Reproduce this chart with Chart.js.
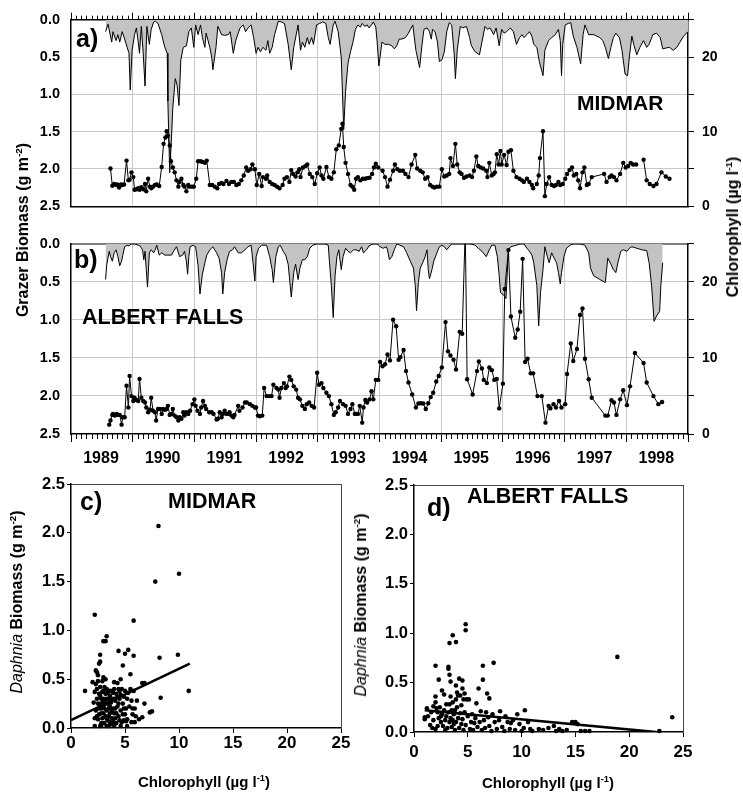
<!DOCTYPE html>
<html>
<head>
<meta charset="utf-8">
<script src="https://cdn.jsdelivr.net/npm/chart.js@4.4.0/dist/chart.umd.min.js"></script>
<style>
  body { margin: 0; background: #fff; }
  #page { position: relative; width: 743px; height: 792px; overflow: hidden;
          font-family: "Liberation Sans", Arial, sans-serif; font-weight: bold; color: #000; }
  canvas { position: absolute; }
  .t { position: absolute; white-space: nowrap; line-height: 1; }
  .rot { transform: translate(-50%, -50%) rotate(-90deg); }
  .mid { transform: translate(-50%, -50%); }
  sup { font-size: 62%; vertical-align: 0; position: relative; top: -0.6em; }
  .sp { font-weight: normal; }
</style>
</head>
<body>
<div id="page">
  <canvas id="cA" width="743" height="226" style="left:0;top:0"></canvas>
  <canvas id="cB" width="743" height="250" style="left:0;top:224px"></canvas>
  <canvas id="cC" width="360" height="322" style="left:0;top:470px"></canvas>
  <canvas id="cD" width="383" height="322" style="left:360px;top:470px"></canvas>

  <div class="t rot" style="left:23px;top:230px;font-size:16px">Grazer Biomass (g m<sup>-2</sup>)</div>
  <div class="t rot" style="left:733px;top:227px;font-size:16px">Chlorophyll (µg l<sup>-1</sup>)</div>
  <div class="t" style="left:76px;top:26px;font-size:25px">a)</div>
  <div class="t" style="left:577px;top:92px;font-size:21px">MIDMAR</div>
  <div class="t" style="left:74px;top:247px;font-size:25px">b)</div>
  <div class="t" style="left:82px;top:307px;font-size:21.5px">ALBERT FALLS</div>
  <div class="t" style="left:80px;top:489px;font-size:25px">c)</div>
  <div class="t" style="left:168px;top:491px;font-size:21.5px">MIDMAR</div>
  <div class="t" style="left:427px;top:495px;font-size:25px">d)</div>
  <div class="t" style="left:467px;top:486px;font-size:21.5px">ALBERT FALLS</div>
  <div class="t rot" style="left:17px;top:602px;font-size:16px"><i class="sp">Daphnia</i> Biomass (g m<sup>-2</sup>)</div>
  <div class="t rot" style="left:361px;top:605px;font-size:16px"><i class="sp">Daphnia</i> Biomass (g m<sup>-2</sup>)</div>
  <div class="t mid" style="left:204px;top:782px;font-size:15px">Chlorophyll (µg l<sup>-1</sup>)</div>
  <div class="t mid" style="left:548px;top:783px;font-size:15px">Chlorophyll (µg l<sup>-1</sup>)</div>
</div>

<script>
// ---- a) Midmar: grazer biomass (g m-2), time in decimal years
const GA_T = [
  1989.56,1989.60,1989.66,1989.68,1989.73,1989.76,1989.79,1989.83,1989.87,1989.91,
  1989.94,1989.96,1989.99,1990.03,1990.06,1990.09,1990.11,1990.14,1990.17,1990.20,
  1990.23,1990.27,1990.30,1990.34,1990.37,1990.41,1990.47,1990.52,1990.56,1990.57,
  1990.60,1990.63,1990.65,1990.69,1990.72,1990.75,1990.78,1990.82,1990.87,1990.91,
  1990.95,1990.99,1991.02,1991.06,1991.10,1991.13,1991.17,1991.19,1991.25,1991.28,
  1991.30,1991.35,1991.38,1991.44,1991.49,1991.55,1991.58,1991.63,1991.67,1991.71,
  1991.74,1991.79,1991.83,1991.87,1991.92,1991.96,1992.00,1992.03,1992.07,1992.11,
  1992.16,1992.19,1992.22,1992.26,1992.30,1992.36,1992.41,1992.46,1992.52,1992.57,
  1992.61,1992.65,1992.68,1992.72,1992.75,1992.79,1992.83,1992.86,1992.90,1992.93,
  1992.98,1993.03,1993.08,1993.13,1993.17,1993.20,1993.25,1993.28,1993.33,1993.38,
  1993.42,1993.45,1993.49,1993.53,1993.57,1993.61,1993.65,1993.69,1993.72,1993.76,
  1993.80,1993.83,1993.87,1993.90,1993.94,1993.96,1993.99,
  1994.04,1994.09,1994.15,1994.20,1994.24,1994.28,1994.32,1994.36,1994.42,1994.47,
  1994.54,1994.59,1994.65,1994.69,1994.72,1994.77,1994.81,1994.84,1994.86,1994.90,
  1994.94,1994.97,1995.01,1995.05,1995.09,1995.13,1995.17,1995.21,1995.23,1995.26,
  1995.31,1995.35,1995.41,1995.46,1995.49,1995.55,1995.62,1995.66,1995.71,1995.75,
  1995.79,1995.85,1995.89,1995.94,1995.98,1996.02,1996.06,1996.12,1996.17,1996.22,
  1996.27,1996.31,1996.34,1996.39,1996.43,1996.47,1996.50,1996.55,1996.59,1996.65,
  1996.68,1996.74,1996.79,1996.85,1996.90,1996.93,1996.95,1996.97,1997.01,1997.06,
  1997.10,1997.14,1997.20,1997.26,1997.30,1997.33,1997.39,1997.47,1997.52,1997.57,
  1997.62,1997.66,1997.71,1997.75,1997.79,1997.83,1997.89,1997.93,1997.98,1998.02,
  1998.05,1998.09,1998.12,1998.17,1998.22,1998.28,1998.33,1998.37,1998.43,1998.49,
  1998.55,1998.59,1998.64,1998.70,1998.76,1998.82,1998.87,1998.93,1999.00
];
const GA_V = [
  0.16,0.06,0.30,0.16,0.28,0.20,0.30,0.16,0.26,0.37,
  0.45,0.94,0.41,0.20,0.11,0.30,0.45,0.09,0.45,0.89,
  0.09,0.33,0.13,0.03,0.02,0.05,0.20,0.37,0.45,1.09,
  2.05,1.56,1.18,0.79,0.88,1.15,0.54,0.37,0.35,0.16,
  0.11,0.37,0.07,0.20,0.07,0.24,0.37,0.18,0.37,0.50,
  0.67,0.37,0.09,0.20,0.21,0.20,0.16,0.45,0.28,0.18,
  0.11,0.07,0.16,0.11,0.07,0.24,0.45,0.37,0.43,0.37,
  0.41,0.28,0.45,0.37,0.20,0.02,0.03,0.05,0.33,0.67,
  0.37,0.20,0.07,0.41,0.30,0.37,0.24,0.33,0.24,0.33,
  0.07,0.05,0.03,0.05,0.24,0.33,0.07,0.02,0.16,0.50,
  1.47,0.96,0.58,0.43,0.30,0.13,0.07,0.10,0.05,0.09,
  0.07,0.11,0.07,0.03,0.10,0.28,0.62,
  0.30,0.33,0.33,0.35,0.39,0.35,0.26,0.26,0.24,0.18,
  0.07,0.41,0.64,0.33,0.13,0.11,0.16,0.26,0.13,0.16,
  0.30,0.56,0.54,0.43,0.16,0.04,0.07,0.45,0.79,0.41,
  0.09,0.11,0.09,0.24,0.35,0.43,0.47,0.30,0.09,0.13,
  0.11,0.20,0.11,0.35,0.13,0.18,0.16,0.11,0.16,0.33,
  0.24,0.20,0.24,0.20,0.16,0.22,0.33,0.37,0.56,0.75,
  0.41,0.28,0.24,0.20,0.13,0.28,0.75,0.33,0.07,0.05,
  0.04,0.22,0.37,0.59,0.20,0.07,0.20,0.20,0.22,0.24,
  0.28,0.37,0.52,0.37,0.24,0.18,0.24,0.41,0.73,0.75,
  0.50,0.22,0.33,0.47,0.37,0.28,0.37,0.33,0.20,0.18,
  0.24,0.39,0.38,0.37,0.41,0.37,0.30,0.22,0.16
];

// ---- a) Midmar: chlorophyll (ug l-1); null = gap in record
const CA_T = [
  1989.64,1989.67,1989.70,1989.73,1989.75,1989.78,1989.81,1989.83,1989.86,1989.90,
  1989.93,1989.95,1989.98,1990.01,1990.03,1990.06,1990.09,1990.11,1990.14,1990.17,
  1990.20,1990.22,1990.25,1990.28,1990.30,1990.33,1990.36,1990.39,1990.43,1990.47,
  1990.50,1990.53,1990.55,1990.57,1990.60,1990.62,1990.65,1990.68,1990.71,1990.74,
  1990.76,1990.79,1990.82,1990.84,1990.87,1990.90,1990.92,1990.96,1990.99,1991.03,
  1991.06,1991.10,1991.13,1991.17,1991.20,1991.25,1991.29,1991.33,1991.37,1991.40,
  1991.44,1991.47,1991.52,1991.56,1991.60,1991.64,1991.68,1991.72,1991.76,1991.80,
  1991.84,1991.87,1991.91,1991.94,1991.98,1992.01,1992.05,1992.09,1992.11,1992.16,
  1992.18,1992.22,1992.26,1992.30,1992.34,1992.38,1992.43,1992.46,1992.50,1992.54,
  1992.57,1992.60,1992.64,1992.67,1992.70,1992.72,1992.76,1992.80,1992.83,1992.87,
  1992.91,1992.95,1992.99,1993.03,1993.06,1993.09,1993.14,1993.18,1993.22,1993.26,
  1993.30,1993.34,1993.38,1993.40,1993.42,1993.45,1993.49,1993.53,1993.56,1993.59,
  1993.62,1993.65,1993.69,1993.73,1993.77,1993.80,1993.84,1993.88,1993.91,1993.94,
  1993.98,
  1994.05,1994.09,1994.13,1994.17,1994.22,1994.25,1994.29,1994.33,1994.38,1994.42,
  1994.47,1994.52,1994.58,1994.61,1994.66,1994.70,1994.74,1994.78,1994.82,1994.86,
  1994.89,1994.93,1994.97,1995.01,1995.05,1995.09,1995.13,1995.15,1995.19,1995.23,
  1995.26,1995.30,1995.33,1995.37,1995.41,1995.46,1995.50,1995.53,1995.57,1995.60,
  1995.64,1995.68,1995.73,1995.75,1995.78,1995.82,1995.85,1995.87,1995.90,1995.93,
  1995.96,1995.98,1996.02,1996.06,1996.09,1996.13,1996.17,1996.22,1996.27,1996.31,
  1996.34,1996.39,1996.43,1996.47,1996.49,1996.55,1996.58,1996.60,1996.65,1996.68,
  1996.71,1996.75,1996.79,1996.83,1996.86,1996.90,1996.93,1996.97,1997.01,1997.04,
  1997.08,1997.12,1997.15,1997.19,1997.22,1997.25,1997.29,1997.32,1997.36,1997.39,
  1997.44,1997.64,1997.68,1997.73,1997.76,1997.80,1997.84,1997.90,1997.95,1997.99,
  1998.03,1998.07,1998.11,1998.16,1998.22,1998.28,1998.33,1998.38,1998.44,1998.49,
  1998.57,1998.64,1998.70
];
const CA_V = [
  5.06,2.76,2.98,2.85,2.93,2.51,2.93,2.85,2.93,6.12,
  3.48,3.57,4.55,3.91,2.21,2.29,2.42,2.21,2.55,2.29,
  2.98,2.00,3.70,2.63,2.42,2.63,2.85,2.93,2.72,5.27,
  8.37,9.22,10.07,9.44,8.16,6.04,5.19,4.55,3.48,2.63,
  3.27,3.70,2.85,2.63,2.00,2.85,2.63,2.63,2.63,3.70,
  6.04,6.04,5.95,5.82,6.12,2.85,2.85,2.63,2.42,2.98,
  3.14,2.98,3.40,2.98,3.27,3.27,2.85,2.98,3.48,4.12,
  5.19,4.76,4.97,5.61,4.97,2.85,4.34,2.72,3.91,3.70,
  4.12,3.27,2.98,2.85,2.63,2.42,2.85,3.70,3.91,3.27,
  4.85,4.34,4.00,4.55,4.97,3.91,5.19,5.40,5.61,4.34,
  3.91,2.98,4.42,5.19,4.12,3.70,5.27,3.91,3.70,4.55,
  7.65,8.16,10.37,11.05,7.95,5.82,4.34,2.85,2.63,2.21,
  3.70,3.91,3.48,3.70,3.70,3.78,3.82,4.34,5.19,5.70,
  5.19,
  4.76,3.91,2.63,3.57,4.76,5.61,4.97,4.76,4.76,4.34,
  3.91,5.61,6.89,5.06,4.76,4.55,3.70,3.91,2.85,2.63,
  2.51,2.63,2.63,4.97,4.00,4.12,4.34,6.46,5.40,8.37,
  5.61,4.55,4.34,3.82,4.00,4.12,3.91,4.76,6.67,5.40,
  5.19,5.06,4.76,3.91,5.82,4.12,4.34,4.55,6.97,5.61,
  7.40,5.61,6.89,5.53,7.31,7.52,4.76,3.91,3.70,3.48,
  3.27,3.70,3.27,2.85,2.42,2.98,4.12,6.46,10.07,1.36,
  2.98,3.91,2.85,2.72,2.85,3.27,2.85,2.98,3.70,4.34,
  4.85,5.19,4.12,4.34,3.48,2.42,4.55,5.19,2.85,2.98,
  3.91,4.34,3.27,3.91,4.12,3.91,3.48,4.34,5.82,5.19,
  5.40,5.82,5.61,5.61,null,6.25,3.48,2.98,2.72,2.98,
  4.55,4.00,3.70
];

// ---- b) Albert Falls: grazer biomass (g m-2)
const GB_T = [
  1989.56,1989.58,1989.62,1989.64,1989.67,1989.70,1989.73,1989.76,1989.79,1989.82,
  1989.84,1989.87,1989.91,1989.94,1989.98,1990.03,1990.09,1990.12,1990.16,1990.18,
  1990.20,1990.22,1990.24,1990.27,1990.30,1990.34,1990.37,1990.39,1990.43,1990.47,
  1990.52,1990.57,1990.63,1990.66,1990.71,1990.76,1990.81,1990.84,1990.87,1990.89,
  1990.91,1990.93,1990.98,1991.02,1991.06,1991.09,1991.13,1991.17,1991.20,1991.25,
  1991.30,1991.36,1991.40,1991.44,1991.46,1991.49,1991.53,1991.57,1991.62,1991.65,
  1991.71,1991.76,1991.82,1991.87,1991.92,1991.95,1991.98,1992.00,1992.04,1992.09,
  1992.17,1992.22,1992.26,1992.28,1992.32,1992.36,1992.39,1992.44,1992.48,1992.52,
  1992.54,1992.57,1992.61,1992.64,1992.68,1992.71,1992.75,1992.79,1992.83,1992.87,
  1992.92,1992.98,1993.04,1993.11,1993.17,1993.19,1993.22,1993.25,1993.28,1993.31,
  1993.34,1993.38,1993.41,1993.45,1993.49,1993.53,1993.58,1993.62,1993.67,1993.71,
  1993.74,1993.79,1993.83,1993.89,1993.96,
  1994.01,1994.06,1994.11,1994.13,1994.16,1994.20,1994.24,1994.28,1994.33,1994.39,
  1994.44,1994.50,1994.55,1994.58,1994.60,1994.63,1994.66,1994.70,1994.74,1994.77,
  1994.79,1994.81,1994.85,1994.88,1994.93,1994.97,1995.01,1995.05,1995.09,1995.13,
  1995.17,1995.23,1995.31,1995.39,1995.47,1995.55,1995.60,1995.66,1995.73,1995.78,
  1995.82,1995.87,1995.91,1995.94,1995.96,1996.02,1996.05,1996.09,1996.13,1996.17,
  1996.22,1996.28,1996.34,1996.39,1996.43,1996.47,1996.50,1996.55,1996.58,1996.61,
  1996.65,1996.68,1996.72,1996.75,1996.79,1996.83,1996.87,1996.90,1996.93,1996.95,
  1996.99,1997.03,1997.09,1997.14,1997.25,1997.33,1997.39,1997.42,1997.47,1997.57,
  1997.66,1997.70,1997.74,1997.79,1997.83,1997.87,1997.91,1997.95,1998.01,1998.05,
  1998.09,1998.17,1998.25,1998.33,1998.37,1998.41,1998.45,1998.49,1998.54,1998.56,
  1998.59
];
const GB_V = [
  0.47,0.27,0.10,0.17,0.23,0.12,0.08,0.17,0.29,0.23,
  0.15,0.04,0.02,0.03,0.00,0.00,0.02,0.03,0.08,0.21,
  0.10,0.34,0.57,0.12,0.08,0.12,0.07,0.02,0.15,0.12,
  0.15,0.15,0.15,0.10,0.04,0.17,0.15,0.10,0.23,0.40,
  0.17,0.04,0.02,0.04,0.29,0.66,0.40,0.25,0.15,0.08,
  0.04,0.12,0.19,0.38,0.66,0.38,0.21,0.10,0.08,0.04,
  0.12,0.12,0.08,0.04,0.02,0.25,0.49,0.17,0.06,0.02,
  0.02,0.17,0.34,0.51,0.17,0.04,0.02,0.10,0.15,0.27,
  0.44,0.70,0.38,0.27,0.47,0.32,0.21,0.21,0.17,0.06,
  0.02,0.00,0.00,0.00,0.02,0.25,0.55,0.97,0.42,0.17,
  0.08,0.34,0.17,0.06,0.10,0.12,0.08,0.08,0.10,0.04,
  0.12,0.08,0.03,0.00,0.00,
  0.04,0.06,0.04,0.08,0.21,0.17,0.08,0.00,0.02,0.04,
  0.12,0.23,0.32,0.55,0.88,0.51,0.32,0.25,0.17,0.08,
  0.34,0.46,0.34,0.23,0.12,0.04,0.02,0.04,0.08,0.04,
  0.00,0.00,0.00,0.00,0.00,0.02,0.06,0.10,0.17,0.08,
  0.02,0.02,0.17,0.42,0.64,0.68,0.72,0.08,0.04,0.03,
  0.02,0.00,0.00,0.06,0.10,0.15,0.25,0.55,1.08,0.64,
  0.34,0.04,0.17,0.25,0.12,0.19,0.25,0.38,0.53,0.38,
  0.17,0.06,0.02,0.00,0.00,0.02,0.12,0.32,0.42,0.47,
  0.51,0.19,0.25,0.34,0.38,0.23,0.10,0.08,0.10,0.06,
  0.04,0.06,0.08,0.09,0.25,0.55,1.02,0.95,0.89,0.55,
  0.25
];

// ---- b) Albert Falls: chlorophyll (ug l-1); 1995 peak runs off the scale
const CB_T = [
  1989.62,1989.64,1989.67,1989.68,1989.71,1989.74,1989.76,1989.79,1989.82,1989.84,
  1989.87,1989.90,1989.93,1989.95,1989.98,1990.01,1990.03,1990.06,1990.09,1990.11,
  1990.14,1990.17,1990.20,1990.22,1990.25,1990.28,1990.30,1990.33,1990.36,1990.38,
  1990.41,1990.44,1990.47,1990.49,1990.52,1990.55,1990.57,1990.60,1990.63,1990.65,
  1990.68,1990.71,1990.74,1990.76,1990.79,1990.82,1990.84,1990.87,1990.90,1990.93,
  1990.97,1991.00,1991.02,1991.05,1991.09,1991.11,1991.14,1991.17,1991.19,1991.24,
  1991.28,1991.31,1991.36,1991.38,1991.41,1991.44,1991.46,1991.49,1991.52,1991.55,
  1991.57,1991.60,1991.63,1991.65,1991.71,1991.73,1991.78,1991.82,1991.85,1991.90,
  1991.94,1991.98,1992.00,1992.03,1992.06,1992.10,1992.13,1992.17,1992.21,1992.25,
  1992.28,1992.33,1992.36,1992.38,1992.41,1992.45,1992.48,1992.50,1992.54,1992.57,
  1992.61,1992.65,1992.68,1992.71,1992.75,1992.79,1992.82,1992.86,1992.90,1992.94,
  1992.99,1993.02,1993.06,1993.09,1993.14,1993.18,1993.22,1993.26,1993.29,1993.33,
  1993.36,1993.41,1993.45,1993.49,1993.53,1993.56,1993.60,1993.62,1993.65,1993.68,
  1993.72,1993.74,1993.77,1993.80,1993.84,1993.87,1993.90,1993.94,1993.98,
  1994.01,1994.05,1994.09,1994.13,1994.17,1994.22,1994.27,1994.31,1994.34,1994.39,
  1994.43,1994.47,1994.53,1994.59,1994.63,1994.67,1994.71,1994.75,1994.79,1994.83,
  1994.87,1994.92,1994.96,1995.01,1995.07,1995.11,1995.15,1995.20,1995.24,1995.30,
  1995.34,1995.39,1995.42,1995.51,1995.58,1995.61,1995.66,1995.69,1995.74,1995.78,
  1995.82,1995.86,1995.90,1995.94,1996.00,1996.03,1996.09,1996.13,1996.20,1996.24,
  1996.28,1996.32,1996.36,1996.40,1996.45,1996.49,1996.56,1996.63,1996.69,1996.74,
  1996.77,1996.82,1996.86,1996.91,1996.95,1997.01,1997.04,1997.10,1997.14,1997.20,
  1997.25,1997.29,1997.33,1997.39,1997.44,1997.66,1997.70,1997.76,1997.80,1997.84,
  1997.90,1997.95,1998.01,1998.06,1998.14,1998.28,1998.33,1998.44,1998.52,1998.58
];
const CB_V = [
  1.23,1.78,2.51,2.64,2.42,2.64,2.51,2.51,1.23,2.21,
  2.21,6.35,3.49,7.62,4.98,4.34,4.77,4.47,4.34,7.24,
  4.77,4.34,4.13,3.49,2.85,3.19,4.77,3.06,2.85,1.78,
  3.28,3.28,2.64,3.28,3.19,3.28,3.70,2.51,2.64,3.28,
  2.42,2.21,1.78,2.21,2.00,2.85,2.42,2.85,2.64,3.06,
  3.92,4.55,3.70,3.06,2.64,3.49,4.34,3.70,3.28,2.85,
  2.85,2.64,1.91,2.00,2.85,2.21,2.64,3.06,2.64,2.64,
  2.85,2.42,2.21,2.51,3.70,3.06,3.49,4.13,4.13,3.92,
  3.70,3.49,3.49,2.42,2.34,2.42,6.05,4.98,4.98,4.98,
  6.47,6.05,5.83,4.77,6.05,6.69,6.05,6.26,7.54,7.11,
  6.26,5.83,4.77,4.55,3.70,3.28,3.92,4.13,3.70,3.49,
  8.05,6.47,6.69,6.05,5.41,4.98,3.92,2.51,2.85,3.49,
  4.34,3.92,3.70,2.64,3.28,3.92,2.64,2.64,2.64,3.70,
  1.49,3.49,4.47,4.13,4.55,5.62,4.55,7.11,7.11,
  9.46,8.90,9.16,10.44,9.67,15.00,14.15,9.76,10.10,11.03,
  8.26,6.77,5.19,3.49,4.00,4.04,4.00,3.28,4.04,4.85,
  5.41,6.90,7.62,8.73,14.70,10.86,10.31,9.76,8.48,13.42,
  13.17,27.0,7.20,5.19,8.26,9.54,8.60,7.11,6.69,8.73,
  8.39,7.11,7.24,3.36,6.60,19.05,24.16,15.43,12.65,13.72,
  16.07,23.01,9.46,9.88,7.97,7.97,4.98,4.98,1.49,3.70,
  3.36,3.92,3.49,4.34,3.49,3.92,7.88,11.89,9.59,11.16,
  15.64,16.49,9.88,7.20,4.77,2.42,2.42,4.43,4.13,2.51,
  4.55,5.75,3.79,6.26,10.65,9.33,6.77,4.98,3.92,4.21
];

// ---- c) Midmar: chlorophyll (ug l-1) vs Daphnia biomass (g m-2)
const SC_X = [
  8.1,7.8,10.0,2.2,5.8,3.3,3.0,3.2,4.4,5.3,
  5.0,5.8,2.7,2.7,2.6,9.9,8.2,4.8,2.3,2.4,
  2.5,5.5,10.9,8.3,1.3,6.8,6.6,6.8,7.3,7.5,
  6.6,6.3,5.9,2.2,2.7,3.3,4.0,4.6,2.0,2.2,
  2.3,2.4,2.5,2.3,2.4,2.5,2.6,2.6,2.7,2.8,
  2.8,2.9,2.9,3.0,3.0,3.1,3.1,3.2,3.2,3.3,
  3.3,3.4,3.4,3.5,3.5,3.6,3.6,3.7,3.7,3.8,
  3.8,3.9,3.9,4.0,4.0,4.1,4.2,4.2,4.3,4.3,
  4.4,4.5,4.5,4.6,4.7,4.7,4.8,4.9,4.9,5.0,
  5.1,5.2,5.3,5.4,5.5,5.6,5.7,5.8,5.9,6.1,
  2.1,2.2,2.4,2.5,2.6,2.7,2.7,2.8,2.8,2.9,
  2.9,3.0,3.0,3.1,3.1,3.2,3.3,3.3,3.4,3.5,
  3.5,3.6,3.6,3.7,3.8,3.9,4.0,4.1,4.1,4.2,
  4.3,4.4,4.4,4.5,4.6,4.8,4.9,5.0,5.1,5.2,
  5.6,5.7,6.0,3.0,3.2,4.6,4.0,2.8,3.5,5.2
];
const SC_Y = [
  2.07,1.50,1.58,1.16,1.10,0.94,0.89,0.89,0.79,0.80,
  0.76,0.74,0.75,0.68,0.66,0.75,0.72,0.64,0.59,0.57,
  0.54,0.55,0.38,0.31,0.38,0.46,0.46,0.25,0.16,0.17,
  0.11,0.09,0.06,0.02,0.02,0.02,0.02,0.02,0.47,0.37,
  0.45,0.30,0.25,0.18,0.12,0.09,0.20,0.35,0.42,0.30,
  0.15,0.10,0.48,0.38,0.22,0.05,0.28,0.12,0.35,0.40,
  0.18,0.25,0.08,0.38,0.30,0.15,0.22,0.38,0.04,0.30,
  0.10,0.20,0.36,0.40,0.15,0.28,0.05,0.35,0.22,0.46,
  0.12,0.30,0.38,0.18,0.06,0.40,0.25,0.08,0.32,0.14,
  0.20,0.09,0.36,0.22,0.40,0.28,0.14,0.38,0.20,0.28,
  0.26,0.10,0.40,0.48,0.14,0.24,0.33,0.05,0.20,0.26,
  0.37,0.15,0.30,0.20,0.42,0.25,0.10,0.30,0.36,0.12,
  0.20,0.06,0.33,0.26,0.18,0.06,0.30,0.10,0.20,0.15,
  0.32,0.25,0.40,0.08,0.34,0.14,0.20,0.38,0.07,0.30,
  0.06,0.20,0.12,0.52,0.50,0.50,0.47,0.02,0.02,0.02
];
const FIT_C_X = [0, 11];
const FIT_C_Y = [0.08, 0.66];

// ---- d) Albert Falls: chlorophyll (ug l-1) vs Daphnia biomass (g m-2)
const SD_X = [
  4.8,4.8,3.6,3.3,3.9,18.9,7.4,2.0,3.2,3.2,
  6.4,3.3,2.3,3.4,4.2,4.5,6.4,6.0,4.5,4.7,
  4.6,4.9,5.1,6.8,7.0,5.8,3.9,4.0,4.1,4.3,
  24.0,22.8,10.3,9.6,8.0,6.7,14.7,15.0,15.2,12.5,
  13.2,13.5,13.8,11.6,10.8,10.0,15.5,15.9,16.3,1.0,
  1.0,1.3,1.5,1.7,2.0,2.0,2.0,2.1,2.2,2.3,
  2.4,2.5,2.6,2.6,2.7,2.8,2.8,2.9,3.0,3.0,
  3.1,3.2,3.3,3.3,3.4,3.5,3.5,3.6,3.6,3.7,
  3.8,3.8,3.9,4.0,4.1,4.2,4.3,4.4,4.5,4.6,
  4.7,4.8,5.0,5.2,5.3,5.5,5.7,5.9,6.1,6.3,
  6.5,6.6,6.9,7.0,7.2,7.5,7.7,7.9,8.2,8.4,
  8.7,8.9,9.2,9.4,9.8,10.2,10.6,11.0,1.8,1.6,
  2.2,2.5,2.9,3.7,4.4,5.4,6.2,7.3,8.5,9.0,
  1.2,1.8,3.4,3.9,5.6,12.0,14.2,13.0
];
const SD_Y = [
  1.09,1.03,0.98,0.90,0.91,0.76,0.70,0.67,0.66,0.64,
  0.67,0.58,0.53,0.51,0.54,0.52,0.53,0.44,0.44,0.39,
  0.33,0.33,0.33,0.39,0.34,0.29,0.47,0.40,0.37,0.37,
  0.15,0.01,0.22,0.18,0.21,0.20,0.10,0.10,0.08,0.04,
  0.01,0.03,0.01,0.03,0.03,0.01,0.01,0.01,0.01,0.15,
  0.13,0.16,0.07,0.04,0.03,0.36,0.30,0.24,0.20,0.14,
  0.25,0.10,0.42,0.18,0.06,0.22,0.38,0.12,0.28,0.16,
  0.04,0.20,0.28,0.10,0.14,0.22,0.05,0.30,0.12,0.18,
  0.02,0.22,0.10,0.25,0.14,0.04,0.19,0.08,0.13,0.02,
  0.20,0.07,0.16,0.03,0.10,0.02,0.14,0.05,0.10,0.02,
  0.12,0.04,0.15,0.06,0.01,0.10,0.03,0.12,0.05,0.01,
  0.10,0.03,0.12,0.02,0.08,0.04,0.10,0.01,0.12,0.20,
  0.06,0.16,0.02,0.08,0.27,0.18,0.21,0.18,0.16,0.09,
  0.24,0.26,0.36,0.33,0.09,0.02,0.02,0.06
];
const FIT_D_X = [1, 22.5];
const FIT_D_Y = [0.22, 0.0];

const FONT = "'Liberation Sans', Arial, sans-serif";
const GRID = '#c8c8c8';
const FILL = '#c3c3c3';

function pairs(xs, ys) {
  return xs.map((x, i) => ({x: x, y: ys[i]}));
}

function bold(size) {
  return {family: FONT, size: size, weight: 'bold'};
}

// hide the grid line where it would sit on the frame
function innerGrid(lo, hi) {
  return c => (c.tick && (c.tick.value <= lo || c.tick.value >= hi)) ? 'rgba(0,0,0,0)' : GRID;
}

// short monthly ticks between the year ticks
const monthTicks = {
  id: 'monthTicks',
  afterDraw(chart, args, opts) {
    const sc = chart.scales[opts.axis];
    const area = chart.chartArea;
    const y0 = opts.side === 'top' ? area.top : area.bottom;
    const dir = opts.side === 'top' ? -1 : 1;
    const ctx = chart.ctx;
    ctx.save();
    ctx.strokeStyle = '#000';
    ctx.lineWidth = 1;
    ctx.beginPath();
    for (let m = 1; m < 120; m++) {
      if (m % 12 === 0) continue;
      const x = Math.round(sc.getPixelForValue(1989 + m / 12)) + 0.5;
      ctx.moveTo(x, y0);
      ctx.lineTo(x, y0 + dir * opts.len);
    }
    ctx.stroke();
    ctx.restore();
  }
};

function seriesChart(id, grT, grV, chT, chV, o) {
  const top = o.ticksOnTop;
  return new Chart(document.getElementById(id), {
    type: 'line',
    data: {
      datasets: [{
        data: pairs(chT, chV),
        xAxisID: 'x', yAxisID: 'yc',
        borderColor: '#000', borderWidth: 1,
        pointRadius: 2.2, pointHoverRadius: 2.2,
        pointBackgroundColor: '#000', pointBorderWidth: 0,
        fill: false, tension: 0
      }, {
        data: pairs(grT, grV),
        xAxisID: 'x', yAxisID: 'yg',
        borderColor: '#000', borderWidth: 1,
        pointRadius: 0, backgroundColor: FILL,
        fill: {value: 0}, tension: 0
      }]
    },
    options: {
      responsive: false,
      animation: false,
      events: [],
      layout: {padding: 0},
      plugins: {
        legend: {display: false},
        tooltip: {enabled: false},
        monthTicks: {axis: 'x', side: top ? 'top' : 'bottom', len: o.minorLen}
      },
      scales: {
        x: {
          type: 'linear', position: top ? 'top' : 'bottom', min: 1989, max: 1999,
          ticks: {
            stepSize: 1, display: !top, autoSkip: false, maxRotation: 0,
            labelOffset: 30, padding: 7, color: '#000', font: bold(16),
            callback: v => v < 1999 ? String(v) : ''
          },
          grid: {color: innerGrid(1989, 1999), tickColor: '#000', tickLength: o.majorLen},
          border: {color: '#000', width: 1.5},
          afterFit: s => { s.height = o.tickBox; }
        },
        x2: {
          type: 'linear', axis: 'x', position: top ? 'bottom' : 'top', min: 1989, max: 1999,
          ticks: {display: false},
          grid: {drawOnChartArea: false, drawTicks: false},
          border: {color: o.plainColor, width: o.plainWidth},
          afterFit: s => { s.height = o.plainBox; }
        },
        yg: {
          type: 'linear', position: 'left', reverse: true, min: 0, max: 2.5,
          ticks: {stepSize: 0.5, padding: 11, color: '#000', font: bold(14.5), callback: v => v.toFixed(1)},
          grid: {color: innerGrid(0, 2.5), drawTicks: false},
          border: {color: '#000', width: 1.5},
          afterFit: s => { s.width = 71; }
        },
        yc: {
          type: 'linear', position: 'right', min: 0, max: 25,
          ticks: {stepSize: 5, padding: 8, color: '#000', font: bold(14), callback: v => v % 10 === 0 ? String(v) : ''},
          grid: {drawOnChartArea: false, tickLength: 6, tickColor: '#000'},
          border: {color: '#000', width: 1.5},
          afterFit: s => { s.width = 55; }
        }
      }
    },
    plugins: [monthTicks]
  });
}

function scatterChart(id, xs, ys, fx, fy, g) {
  return new Chart(document.getElementById(id), {
    type: 'scatter',
    data: {
      datasets: [{
        data: pairs(fx, fy), showLine: true,
        borderColor: '#000', borderWidth: 2.6, pointRadius: 0
      }, {
        data: pairs(xs, ys), clip: false,
        pointRadius: 2.3, pointHoverRadius: 2.3,
        pointBackgroundColor: '#000', pointBorderWidth: 0
      }]
    },
    options: {
      responsive: false,
      animation: false,
      events: [],
      layout: {padding: 0},
      plugins: {legend: {display: false}, tooltip: {enabled: false}},
      scales: {
        x: {
          type: 'linear', position: 'bottom', min: 0, max: 25,
          ticks: {stepSize: 5, padding: g.xPad, color: '#000', font: bold(17), callback: v => String(v)},
          grid: {drawOnChartArea: false, tickLength: 5, tickColor: '#000'},
          border: {color: '#000', width: 1.5},
          afterFit: s => { s.height = g.bottom; }
        },
        xt: {
          type: 'linear', axis: 'x', position: 'top', min: 0, max: 25,
          ticks: {display: false},
          grid: {drawOnChartArea: false, drawTicks: false},
          border: {color: '#444', width: 1},
          afterFit: s => { s.height = g.top; }
        },
        y: {
          type: 'linear', position: 'left', min: 0, max: 2.5,
          ticks: {stepSize: 0.5, padding: 2, color: '#000', font: bold(16.5), callback: v => v.toFixed(1)},
          grid: {drawOnChartArea: false, tickLength: 4, tickColor: '#000'},
          border: {color: '#000', width: 1.5},
          afterFit: s => { s.width = g.left; }
        },
        yr: {
          type: 'linear', axis: 'y', position: 'right', min: 0, max: 2.5,
          ticks: {display: false},
          grid: {drawOnChartArea: false, drawTicks: false},
          border: {color: '#444', width: 1},
          afterFit: s => { s.width = g.right; }
        }
      }
    }
  });
}

seriesChart('cA', GA_T, GA_V, CA_T, CA_V,
  {ticksOnTop: true, tickBox: 18, plainBox: 12, plainColor: '#000', plainWidth: 1.5, majorLen: 7, minorLen: 4});
seriesChart('cB', GB_T, GB_V, CB_T, CB_V,
  {ticksOnTop: false, tickBox: 40, plainBox: 14, plainColor: '#7f7f7f', plainWidth: 2, majorLen: 8, minorLen: 5});
scatterChart('cC', SC_X, SC_Y, FIT_C_X, FIT_C_Y, {left: 71, right: 19, top: 14, bottom: 64, xPad: 0});
scatterChart('cD', SD_X, SD_Y, FIT_D_X, FIT_D_Y, {left: 54, right: 60, top: 15, bottom: 60, xPad: 5});
</script>
</body>
</html>
